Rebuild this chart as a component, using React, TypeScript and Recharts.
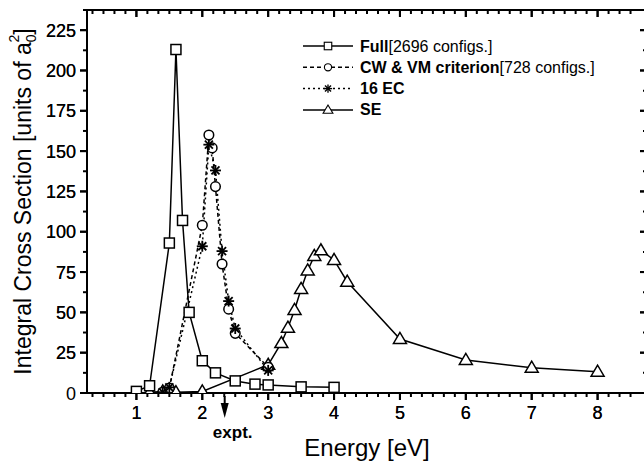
import { LineChart, Line, XAxis, YAxis } from "recharts";

// energy [eV], cross section [a0^2]
const fullPoints = [
  [1.0, 1], [1.2, 4.5], [1.5, 93], [1.6, 213], [1.7, 107], [1.8, 50],
  [2.0, 20], [2.2, 12.5], [2.5, 7.5], [2.8, 5.5], [3.0, 5], [3.5, 3.8], [4.0, 3.5],
];
const cwvmPoints = [
  [1.4, 0.5], [1.5, 3], [2.0, 104], [2.1, 160], [2.15, 152], [2.2, 128],
  [2.3, 80], [2.4, 52], [2.5, 37], [3.0, 16],
];
const ec16Points = [
  [1.4, 0.5], [1.5, 3.5], [2.0, 91], [2.1, 154], [2.2, 138], [2.3, 88],
  [2.4, 57], [2.5, 40], [3.0, 14],
];
const sePoints = [
  [1.2, 0.5], [1.4, 1], [1.6, 0.5], [2.0, 1], [3.0, 17.5], [3.2, 31], [3.3, 40.5],
  [3.4, 51.5], [3.5, 64.5], [3.6, 76], [3.7, 85], [3.8, 88.5], [4.0, 82.5],
  [4.2, 69], [5, 33.5], [6, 20.5], [7, 15.7], [8, 13.2],
];

const xMajor = [1, 2, 3, 4, 5, 6, 7, 8];
const yMajor = [0, 25, 50, 75, 100, 125, 150, 175, 200, 225];
const exptEnergy = 2.34;

const xDomain = [0.25, 8.75];
const yDomain = [0, 237.5];

// minor ticks: 6 intervals per eV, 2 per 25 units
const xMinor = Array.from({ length: 50 }, (_, i) => 1 / 3 + i / 6);
const yMinor = Array.from({ length: 19 }, (_, i) => i * 12.5 + 12.5);

const toRows = (pts: number[][]) => pts.map(([x, y]) => ({ x, y }));

const FONT = "'Liberation Sans', Arial, Helvetica, sans-serif";
const isInt = (v: number) => Math.abs(v - Math.round(v)) < 1e-6;
const isMajorY = (v: number) => Math.abs(v / 25 - Math.round(v / 25)) < 1e-6;

function Marker({ kind, cx, cy }: { kind: string; cx: number; cy: number }) {
  const sw = 1.5;
  if (kind === "square")
    return <rect x={cx - 5} y={cy - 5} width={10} height={10} fill="#fff" stroke="#000" strokeWidth={sw} />;
  if (kind === "circle")
    return <circle cx={cx} cy={cy} r={4.8} fill="#fff" stroke="#000" strokeWidth={sw} />;
  if (kind === "triangle")
    return (
      <polygon
        points={`${cx},${cy - 6.5} ${cx - 6.5},${cy + 4.5} ${cx + 6.5},${cy + 4.5}`}
        fill="#fff"
        stroke="#000"
        strokeWidth={sw}
      />
    );
  const r = 5.5;
  const d = 4;
  return (
    <g stroke="#000" strokeWidth={1.8}>
      <line x1={cx - r} y1={cy} x2={cx + r} y2={cy} />
      <line x1={cx} y1={cy - r} x2={cx} y2={cy + r} />
      <line x1={cx - d} y1={cy - d} x2={cx + d} y2={cy + d} />
      <line x1={cx - d} y1={cy + d} x2={cx + d} y2={cy - d} />
    </g>
  );
}

const dotFor = (kind: string) => (p: any) =>
  <g key={`${kind}-${p.index}`}><Marker kind={kind} cx={p.cx} cy={p.cy} /></g>;

function BottomTick(props: any) {
  const { x, y, payload } = props;
  const v = payload.value;
  if (Math.abs(v - exptEnergy) < 1e-6) {
    return (
      <g>
        <line x1={x} x2={x} y1={y + 3} y2={y + 12} stroke="#000" strokeWidth={2} />
        <polygon points={`${x - 4},${y + 10} ${x + 4},${y + 10} ${x},${y + 25}`} fill="#000" />
        <text x={x + 8} y={y + 45} textAnchor="middle" fontSize={17} fontWeight="bold" fontFamily={FONT}>
          expt.
        </text>
      </g>
    );
  }
  const major = isInt(v);
  return (
    <g>
      <line x1={x} x2={x} y1={y} y2={y + (major ? 7 : 4)} stroke="#000" strokeWidth={2} />
      {major && (
        <text x={x} y={y + 26} textAnchor="middle" fontSize={18} fontFamily={FONT}>
          {v}
        </text>
      )}
    </g>
  );
}

function TopTick(props: any) {
  const { x, y, payload } = props;
  const major = isInt(payload.value);
  return <line x1={x} x2={x} y1={y} y2={y + (major ? 7 : 4)} stroke="#000" strokeWidth={2} />;
}

function LeftTick(props: any) {
  const { x, y, payload } = props;
  const v = payload.value;
  const major = isMajorY(v);
  return (
    <g>
      <line x1={x - (major ? 7 : 4)} x2={x} y1={y} y2={y} stroke="#000" strokeWidth={2} />
      {major && (
        <text x={x - 11} y={y + 6.5} textAnchor="end" fontSize={18} fontFamily={FONT}>
          {v}
        </text>
      )}
    </g>
  );
}

function RightTick(props: any) {
  const { x, y, payload } = props;
  const major = isMajorY(payload.value);
  return <line x1={x - (major ? 7 : 4)} x2={x} y1={y} y2={y} stroke="#000" strokeWidth={2} />;
}

function YTitle(props: any) {
  const cy = props.viewBox.y + props.viewBox.height / 2;
  const bx = 31;
  return (
    <text
      x={bx}
      y={cy}
      transform={`rotate(-90, ${bx}, ${cy})`}
      textAnchor="middle"
      fontSize={23}
      fontFamily={FONT}
    >
      Integral Cross Section [units of a
      <tspan fontSize={14} dy={5}>0</tspan>
      <tspan fontSize={14} dx={-8} dy={-17}>2</tspan>
      <tspan dy={12}>]</tspan>
    </text>
  );
}

function XTitle(props: any) {
  const { x, y, width } = props.viewBox;
  return (
    <text x={x + width / 2} y={y + 63} textAnchor="middle" fontSize={24} fontFamily={FONT}>
      Energy [eV]
    </text>
  );
}

const legendRows = [
  { kind: "square", dash: undefined, bold: "Full", normal: "[2696 configs.]" },
  { kind: "circle", dash: "4 3", bold: "CW & VM criterion", normal: "[728 configs.]" },
  { kind: "star", dash: "2 3", bold: "16 EC", normal: "" },
  { kind: "triangle", dash: undefined, bold: "SE", normal: "" },
];

function LegendBox() {
  return (
    <svg width={644} height={466} style={{ position: "absolute", left: 0, top: 0, pointerEvents: "none" }}>
      {legendRows.map((r, i) => {
        const y = 46 + i * 21.3;
        return (
          <g key={r.bold}>
            <line x1={303} x2={353} y1={y} y2={y} stroke="#000" strokeWidth={1.5} strokeDasharray={r.dash} />
            <g transform={`translate(${328},${y}) scale(0.75) translate(${-328},${-y})`}>
              <Marker kind={r.kind} cx={328} cy={y} />
            </g>
            <text x={360} y={y + 5.5} fontSize={16} fontFamily={FONT}>
              <tspan fontWeight="bold">{r.bold}</tspan>
              {r.normal && <tspan>{r.normal}</tspan>}
            </text>
          </g>
        );
      })}
    </svg>
  );
}

export default function App() {
  return (
    <div
      style={{
        position: "absolute",
        left: 0,
        top: 0,
        width: 644,
        height: 466,
        overflow: "hidden",
        background: "#fff",
      }}
    >
      <LineChart width={652} height={466} margin={{ top: 0, right: 0, bottom: 0, left: 0 }}>
        <XAxis
          xAxisId="b"
          type="number"
          dataKey="x"
          domain={xDomain}
          allowDataOverflow
          ticks={[...xMinor, ...xMajor, exptEnergy]}
          interval={0}
          tickSize={0}
          tickMargin={0}
          tickLine={false}
          tick={BottomTick}
          height={73}
          axisLine={{ stroke: "#000", strokeWidth: 2 }}
          label={{ content: XTitle }}
        />
        <XAxis
          xAxisId="t"
          orientation="top"
          type="number"
          dataKey="x"
          domain={xDomain}
          allowDataOverflow
          ticks={[...xMinor, ...xMajor]}
          interval={0}
          tickSize={0}
          tickMargin={0}
          tickLine={false}
          tick={TopTick}
          height={10}
          axisLine={{ stroke: "#000", strokeWidth: 2 }}
        />
        <YAxis
          yAxisId="l"
          type="number"
          domain={yDomain}
          allowDataOverflow
          ticks={[...yMinor, ...yMajor]}
          interval={0}
          tickSize={0}
          tickMargin={0}
          tickLine={false}
          tick={LeftTick}
          width={87}
          axisLine={{ stroke: "#000", strokeWidth: 2 }}
          label={{ content: YTitle }}
        />
        <YAxis
          yAxisId="r"
          orientation="right"
          type="number"
          domain={yDomain}
          allowDataOverflow
          ticks={[...yMinor, ...yMajor]}
          interval={0}
          tickSize={0}
          tickMargin={0}
          tickLine={false}
          tick={RightTick}
          width={5}
          axisLine={{ stroke: "#000", strokeWidth: 2 }}
        />
        <Line
          data={toRows(sePoints)}
          dataKey="y"
          xAxisId="b"
          yAxisId="l"
          type="linear"
          stroke="#000"
          strokeWidth={1.5}
          dot={dotFor("triangle")}
          isAnimationActive={false}
        />
        <Line
          data={toRows(fullPoints)}
          dataKey="y"
          xAxisId="b"
          yAxisId="l"
          type="linear"
          stroke="#000"
          strokeWidth={1.5}
          dot={dotFor("square")}
          isAnimationActive={false}
        />
        <Line
          data={toRows(cwvmPoints)}
          dataKey="y"
          xAxisId="b"
          yAxisId="l"
          type="linear"
          stroke="#000"
          strokeWidth={1.5}
          strokeDasharray="4 3"
          dot={dotFor("circle")}
          isAnimationActive={false}
        />
        <Line
          data={toRows(ec16Points)}
          dataKey="y"
          xAxisId="b"
          yAxisId="l"
          type="linear"
          stroke="#000"
          strokeWidth={1.5}
          strokeDasharray="2 3"
          dot={dotFor("star")}
          isAnimationActive={false}
        />
      </LineChart>
      <LegendBox />
    </div>
  );
}
